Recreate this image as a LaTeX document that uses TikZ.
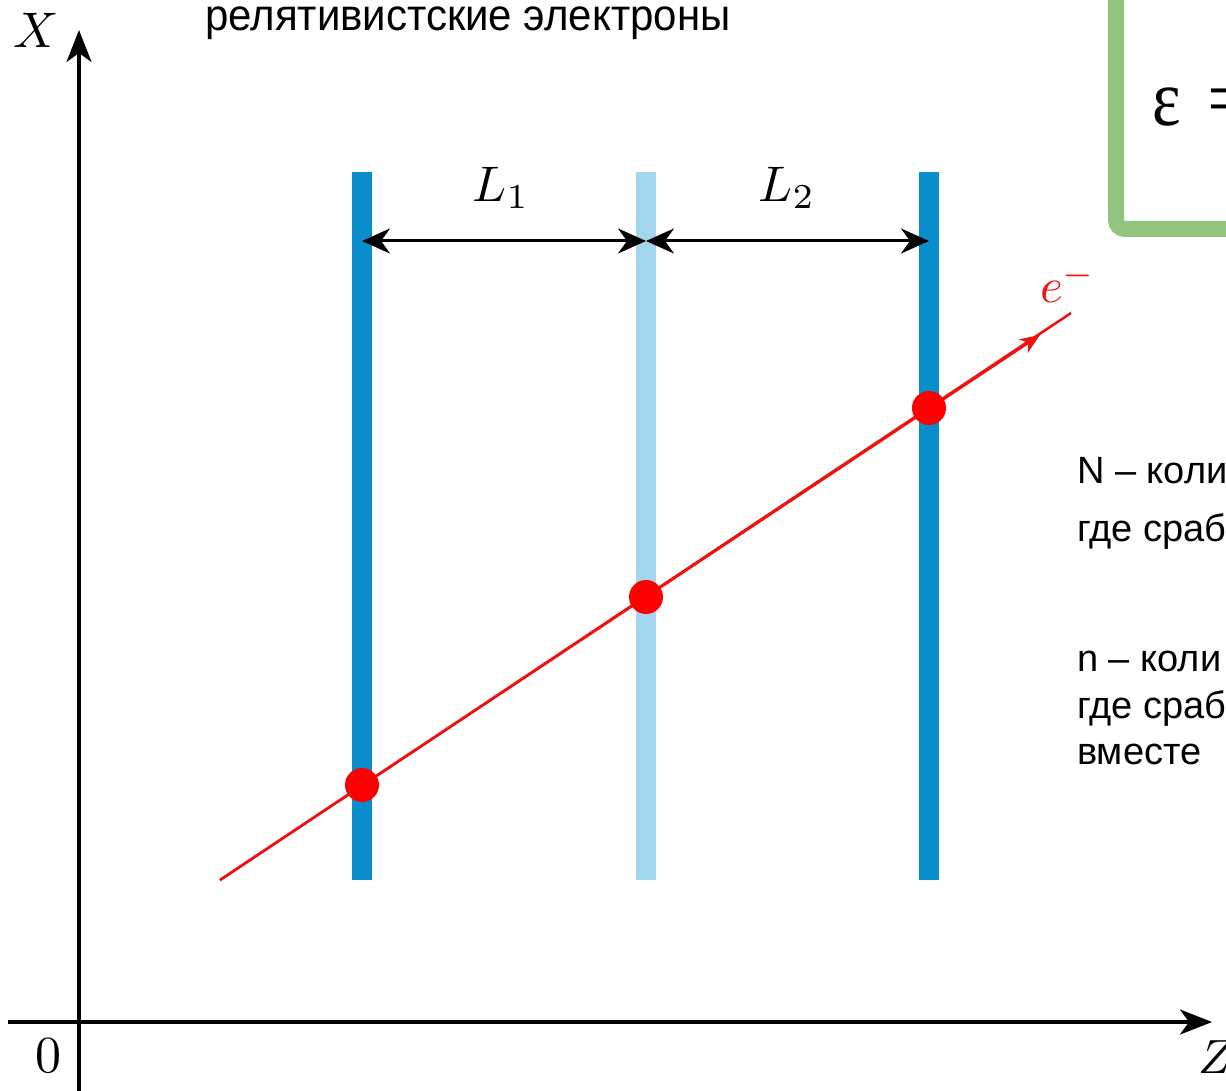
\documentclass[tikz,border=0pt]{standalone}
\usepackage{fontspec}
\usetikzlibrary{arrows.meta}
\newfontfamily\arialf{Liberation Sans}
\newfontfamily\timesf{Liberation Serif}
\definecolor{bardark}{HTML}{0A8DCD}
\definecolor{barlight}{HTML}{A3D5EE}
\definecolor{boxgreen}{HTML}{93C47D}
\definecolor{elred}{HTML}{F01010}
\newcommand{\scaledmath}[2]{\scalebox{#1}{\fontsize{10}{10}\selectfont$#2$}}
\tikzset{
  axisline/.style={line width=3.5pt, -{Stealth[length=32pt,width=25pt,inset=9pt]}},
  dimline/.style={line width=3pt, {Stealth[length=28pt,width=25pt,inset=9pt]}-{Stealth[length=28pt,width=25pt,inset=9pt]}},
  barnode/.style={rectangle, inner sep=0pt, minimum width=20pt, minimum height=708pt, draw=none},
  hitdot/.style={circle, fill=red, inner sep=0pt, minimum size=34pt},
  texlabel/.style={inner sep=0pt},
  ruslabel/.style={inner sep=0pt, anchor=base west, font=\arialf\fontsize{38}{38}\selectfont},
}
\begin{document}
\begin{tikzpicture}[x=1pt,y=-1pt]
\useasboundingbox (0,0) rectangle (1226,1091);
\clip (0,0) rectangle (1226,1091);
\fill[white] (0,0) rectangle (1226,1091);

% green formula box
\draw[boxgreen, line width=16pt, rounded corners=9pt] (1116,-40) -- (1116,229) -- (1300,229) -- (1300,-40);
\node[inner sep=0pt, anchor=base west] (eps) at (1152,126) {\timesf\fontsize{80}{80}\selectfont\scalebox{0.85}[1]{ε}\hspace{27pt}=};

% axes
\coordinate (xbot) at (79,1091);
\coordinate (xtop) at (79,30);
\coordinate (zleft) at (8,1022);
\coordinate (zright) at (1212,1022);
\draw[axisline] (xbot) -- (xtop);
\draw[axisline] (zleft) -- (zright);
\node[texlabel] (xlab) at (36,30) {\scaledmath{5.0}{X}};
\node[texlabel] (zero) at (48,1056) {\scaledmath{5.2}{0}};
\node[texlabel, anchor=west] (zlab) at (1198,1057) {\scaledmath{4.8}{Z}};

% bars
\node[barnode, fill=bardark] (b1) at (362,526) {};
\node[barnode, fill=barlight] (b2) at (646,526) {};
\node[barnode, fill=bardark] (b3) at (929,526) {};

% dimension arrows
\coordinate (d1) at (362,241);
\coordinate (d2) at (646,241);
\coordinate (d3) at (929,241);
\draw[dimline] (d1) -- (d2);
\draw[dimline] (d2) -- (d3);
\node[texlabel] (L1) at (501,188) {\scaledmath{5.0}{L_1}};
\node[texlabel] (L2) at (787,188) {\scaledmath{5.0}{L_2}};

% electron track
\coordinate (es) at (220,880);
\coordinate (em) at (1040,335);
\coordinate (ee) at (1071,313);
\draw[elred, line width=2.5pt] (es) -- (ee);
\draw[elred, line width=2.5pt, -{Stealth[length=20pt,width=16pt,inset=6pt]}] (es) -- (em);
\node[texlabel, text=elred] (elab) at (1068,283) {\scaledmath{4.9}{e^-}};

\node[hitdot] (h1) at (362,785) {};
\node[hitdot] (h2) at (646,597) {};
\node[hitdot] (h3) at (929,408) {};

% texts
\node[inner sep=0pt, anchor=base west] (title) at (205,31) {\scalebox{1}[1.05]{\arialf\fontsize{42}{42}\selectfont релятивистские электроны}};
\node[ruslabel] (t1) at (1077,483) {N – коли};
\node[ruslabel] (t2) at (1077,541) {где сраб};
\node[ruslabel] (t3) at (1077,671) {n – коли};
\node[ruslabel] (t4) at (1077,718) {где сраб};
\node[ruslabel] (t5) at (1077,764) {вместе};
\end{tikzpicture}
\end{document}
